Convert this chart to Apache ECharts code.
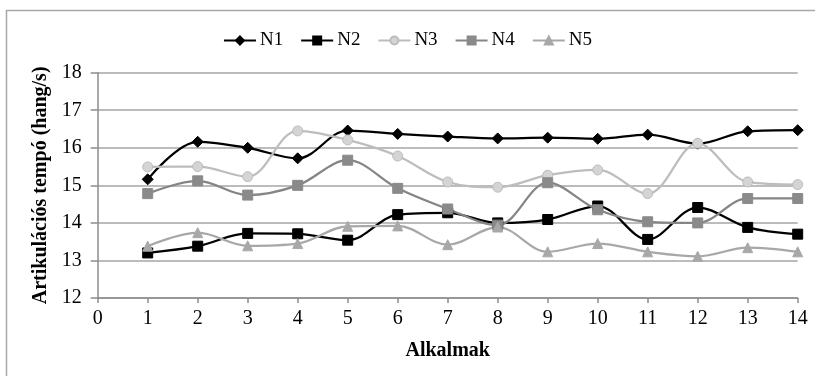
<!DOCTYPE html>
<html>
<head>
<meta charset="utf-8">
<script src="https://cdn.jsdelivr.net/npm/echarts@6/dist/echarts.min.js"></script>
<style>html,body{margin:0;padding:0;background:#fff}#c{width:815px;height:376px}</style>
</head>
<body>
<div id="c"></div>
<script>
var occasions = [1,2,3,4,5,6,7,8,9,10,11,12,13,14];
var N1 = [15.16,16.16,16.0,15.72,16.46,16.37,16.30,16.25,16.27,16.24,16.35,16.11,16.44,16.47];
var N2 = [13.2,13.38,13.72,13.71,13.54,14.22,14.27,14.0,14.09,14.45,13.56,14.41,13.88,13.7];
var N3 = [15.49,15.5,15.23,16.45,16.21,15.78,15.09,14.95,15.27,15.41,14.78,16.12,15.09,15.02];
var N4 = [14.78,15.12,14.74,15.0,15.67,14.92,14.37,13.94,15.07,14.35,14.03,14.0,14.65,14.65];
var N5 = [13.38,13.74,13.39,13.45,13.91,13.92,13.42,13.89,13.23,13.45,13.23,13.11,13.34,13.23];
var yTicks = {min:12, max:18, interval:1};
var xTicks = {min:0, max:14, interval:1};

function pts(arr){ return occasions.map(function(x,i){ return [x, arr[i]]; }); }

var font = '"Liberation Serif","Times New Roman",serif';
var chart = echarts.init(document.getElementById('c'), null, {renderer:'canvas'});
function ser(name, data, lineColor, symbol, size, fill, border){
  return {
    name:name, type:'line', smooth:0.35, data:pts(data),
    symbol:symbol, symbolSize:size,
    lineStyle:{color:lineColor, width:2.25},
    itemStyle:{color:fill, borderColor:border, borderWidth:1},
    emphasis:{disabled:true}
  };
}
chart.setOption({
  animation:false,
  backgroundColor:'#fff',
  textStyle:{fontFamily:font},
  graphic:[{type:'rect', shape:{x:6.5,y:10.5,width:820,height:380}, style:{fill:'none', stroke:'#a8a8a8', lineWidth:1.5}, silent:true}],
  legend:{
    top:26, left:'center', itemGap:17, itemWidth:32, itemHeight:10,
    textStyle:{fontFamily:font, fontSize:19, color:'#000', padding:[0,0,0,-1]},
    data:['N1','N2','N3','N4','N5']
  },
  grid:{left:97.7, right:17.3, top:72.7, bottom:78, containLabel:false},
  xAxis:{
    type:'value', min:xTicks.min, max:xTicks.max, interval:xTicks.interval,
    name:'Alkalmak', nameLocation:'middle', nameGap:43,
    nameTextStyle:{fontFamily:font, fontSize:20, fontWeight:'bold', color:'#000'},
    axisLine:{show:true, onZero:false, lineStyle:{color:'#8c8c8c', width:1.5}},
    axisTick:{show:true, length:5, lineStyle:{color:'#8c8c8c', width:1.5}},
    axisLabel:{fontFamily:font, fontSize:20, color:'#000', margin:11},
    splitLine:{show:false}
  },
  yAxis:{
    type:'value', min:yTicks.min, max:yTicks.max, interval:yTicks.interval,
    name:'Artikulációs tempó (hang/s)', nameLocation:'middle', nameGap:44,
    nameTextStyle:{fontFamily:font, fontSize:20, fontWeight:'bold', color:'#000'},
    axisLine:{show:true, lineStyle:{color:'#8c8c8c', width:1.5}},
    axisTick:{show:true, length:7, lineStyle:{color:'#8c8c8c', width:1.5}},
    axisLabel:{fontFamily:font, fontSize:20, color:'#000', margin:16},
    splitLine:{show:true, lineStyle:{color:'#a6a6a6', width:1.5}}
  },
  series:[
    ser('N1', N1, '#000', 'diamond', 11, '#000', '#000'),
    ser('N2', N2, '#000', 'rect', 10, '#000', '#000'),
    ser('N3', N3, '#bdbdbd', 'circle', 10, '#d4d4d4', '#bdbdbd'),
    ser('N4', N4, '#858585', 'path://M0,0H10V10H0Z M1.5,2.5L2.5,1.5L5,4L7.5,1.5L8.5,2.5L6,5L8.5,7.5L7.5,8.5L5,6L2.5,8.5L1.5,7.5L4,5Z', 10, '#8a8a8a', '#8a8a8a'),
    ser('N5', N5, '#a8a8a8', 'triangle', 10, '#a8a8a8', '#a8a8a8')
  ]
});
</script>
</body>
</html>
